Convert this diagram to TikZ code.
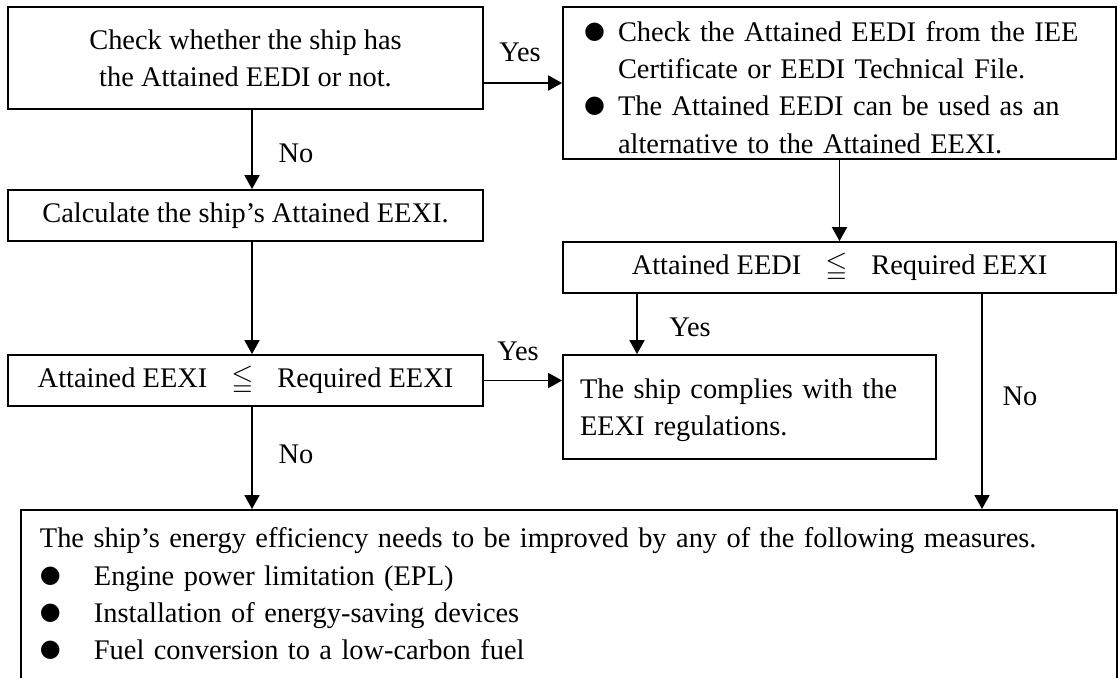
\documentclass[tikz,border=0pt]{standalone}
\usepackage{amssymb}
\usepackage{fontspec}
\setmainfont{Liberation Serif}
\newfontfamily\dotfont{DejaVu Sans}
\usetikzlibrary{arrows.meta}
\newcommand{\blt}[1]{\makebox[#1][l]{\raisebox{1.5pt}{\dotfont\fontsize{12}{12}\selectfont ●}}}
\newcommand{\leqgap}{\hspace{12pt}$\leqq$\hspace{12pt}}

\begin{document}
\begin{tikzpicture}[x=0.5pt,y=-0.5pt,
    txt/.style={font=\fontsize{14.2}{18.6}\selectfont},
    box/.style={txt,draw,line width=0.9pt,inner sep=0pt},
    flow/.style={-{Triangle[length=7pt,width=7.5pt]},line width=0.9pt}]
  \path[use as bounding box,clip] (0,0) rectangle (1118,677);

  \node[box,minimum width=237.5pt,minimum height=51pt,align=center] (has) at (245.5,58)
    {Check whether the ship has\\the Attained EEDI or not.};
  \node[box,minimum height=76pt,text width=255.5pt,inner xsep=10.5pt,align=left] (chk) at (839.5,83)
    {\rule{0pt}{14.5pt}\blt{17pt}Check the Attained EEDI from the IEE\\
     \hspace*{17pt}Certificate or EEDI Technical File.\\
     \blt{17pt}The Attained EEDI can be used as an\\
     \hspace*{17pt}alternative to the Attained EEXI.};
  \node[box,minimum width=237.5pt,minimum height=25.5pt] (calc) at (245.5,215.5)
    {Calculate the ship’s Attained EEXI.};
  \node[box,minimum width=276.5pt,minimum height=25.5pt] (eedi) at (839.5,267.5)
    {Attained EEDI\leqgap Required EEXI};
  \node[box,minimum width=237.5pt,minimum height=25.5pt] (eexi) at (245.5,380.5)
    {Attained EEXI\leqgap Required EEXI};
  \node[box,minimum height=52pt,text width=169.5pt,inner xsep=8.5pt,align=left] (comply) at (749.5,407)
    {\rule{0pt}{13pt}The ship complies with the\\EEXI regulations.};
  \node[box,anchor=north west,text width=529pt,inner xsep=9.5pt,inner ysep=9pt,align=left] (improve) at (20,509)
    {The ship’s energy efficiency needs to be improved by any of the following measures.\\
     \blt{27pt}Engine power limitation (EPL)\\
     \blt{27pt}Installation of energy-saving devices\\
     \blt{27pt}Fuel conversion to a low-carbon fuel\rule[-12pt]{0pt}{12pt}};

  \coordinate (ax) at (252,0);
  \coordinate (yx) at (637,0);
  \coordinate (nx) at (982,0);

  \draw[flow] (has.east |- chk.west) -- (chk.west);
  \node[txt] (yes1) at (520,52) {Yes};
  \draw[flow] (has.south -| ax) -- (calc.north -| ax);
  \node[txt] (no1) at (296,153) {No};
  \draw[flow] (calc.south -| ax) -- (eexi.north -| ax);
  \draw[flow] (chk) -- (eedi);
  \draw[flow] (eedi.south -| yx) -- (comply.north -| yx);
  \node[txt] (yes2) at (690,327) {Yes};
  \draw[flow] (eedi.south -| nx) -- (improve.north -| nx);
  \node[txt] (no3) at (1020,396) {No};
  \draw[flow] (eexi.east) -- (eexi.east -| comply.west);
  \node[txt] (yes3) at (518,351) {Yes};
  \draw[flow] (eexi.south -| ax) -- (improve.north -| ax);
  \node[txt] (no2) at (296,454) {No};
\end{tikzpicture}
\end{document}
